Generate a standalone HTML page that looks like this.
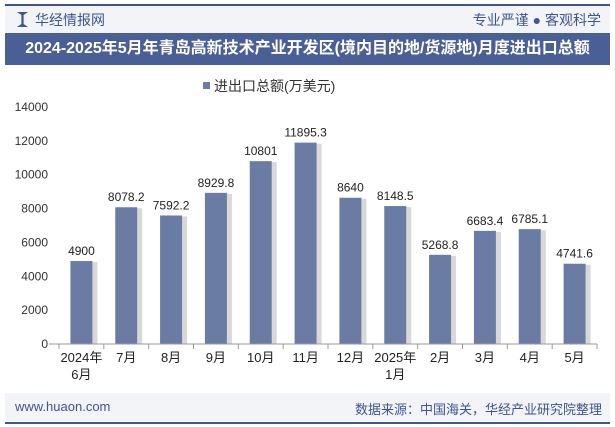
<!DOCTYPE html>
<html><head><meta charset="utf-8"><style>
body{margin:0;width:615px;height:427px;background:#fff;font-family:"Liberation Sans","Noto Sans CJK SC",sans-serif;overflow:hidden;position:relative}
.a{position:absolute}
</style></head><body>
<div class="a" style="left:5px;top:4px;width:605px;height:2px;background:#3d5590"></div>
<div class="a" style="left:5px;top:6px;width:605px;height:27px;background:#f2f4f8"></div>
<div class="a" style="left:17px;top:12px;width:11px;height:15px;background:#3d5590;clip-path:polygon(0 0,40% 20%,40% 80%,0 100%,100% 100%,60% 80%,60% 20%,100% 0)"></div>
<div class="a" style="left:35px;top:10px;font-size:14px;color:#3d5590">华经情报网</div>
<div class="a" style="right:14px;top:10px;font-size:14px;color:#3d5590">专业严谨 ● 客观科学</div>
<div class="a" style="left:5px;top:33px;width:605px;height:32px;background:#495f95;color:#fff;font-size:16px;font-weight:bold;line-height:32px;text-align:center">2024-2025年5月年青岛高新技术产业开发区(境内目的地/货源地)月度进出口总额</div>
<div class="a" style="left:203px;top:76px;font-size:14px;color:#333"><span style="display:inline-block;width:7px;height:7px;background:#6a7ca4;margin-right:4px;vertical-align:2px"></span>进出口总额(万美元)</div>
<svg class="a" style="left:0;top:0" width="615" height="427" id="chart"></svg>
<div class="a" style="left:5px;top:393px;width:605px;height:28px;background:#f2f4f8"></div>
<div class="a" style="left:15px;top:399px;font-size:13px;color:#3d5590">www.huaon.com</div>
<div class="a" style="right:13px;top:399px;font-size:13px;color:#3d5590">数据来源：中国海关，华经产业研究院整理</div>
<div class="a" style="left:5px;top:422px;width:605px;height:2px;background:#3d5590"></div>
<script>
const categories=["2024年\n6月","7月","8月","9月","10月","11月","12月","2025年\n1月","2月","3月","4月","5月"];
const values=[4900,8078.2,7592.2,8929.8,10801,11895.3,8640,8148.5,5268.8,6683.4,6785.1,4741.6];
const labels=["4900","8078.2","7592.2","8929.8","10801","11895.3","8640","8148.5","5268.8","6683.4","6785.1","4741.6"];
const ticks=[0,2000,4000,6000,8000,10000,12000,14000];
const svg=document.getElementById('chart');const NS='http://www.w3.org/2000/svg';
const x0=59,x1=597,y0=344,yTop=107,max=14000;
const y=v=>y0-(v/max)*(y0-yTop);
const bw=(x1-x0)/categories.length;
const cx=i=>x0+bw*(i+0.5);
function el(t,a){const e=document.createElementNS(NS,t);for(const k in a)e.setAttribute(k,a[k]);svg.appendChild(e);return e;}
ticks.forEach(t=>{const e=el('text',{x:48,y:y(t)+4,'text-anchor':'end','font-size':12,fill:'#333'});e.textContent=t;

});
values.forEach((v,i)=>{
const s=el('rect',{x:cx(i)+11,y:y(v)+1,width:5,height:y0-y(v)-1,fill:'#d8d8d8'});


const r=el('rect',{x:cx(i)-11,y:y(v),width:22,height:y0-y(v),fill:'#6a7ca4'});


const t=el('text',{x:cx(i),y:y(v)-6,'text-anchor':'middle','font-size':12,fill:'#222'});t.textContent=labels[i];


categories[i].split('\n').forEach((ln,j)=>{const c=el('text',{x:cx(i),y:362+j*17,'text-anchor':'middle','font-size':13,fill:'#222'});c.textContent=ln;

});
});
const ax=el('line',{x1:x0-10,y1:y0,x2:x1,y2:y0,stroke:'#999','stroke-width':1});


for(let i=0;i<=categories.length;i++){const tk=el('line',{x1:x0+bw*i,y1:y0,x2:x0+bw*i,y2:y0+5,stroke:'#999'});

}
</script>
</body></html>
